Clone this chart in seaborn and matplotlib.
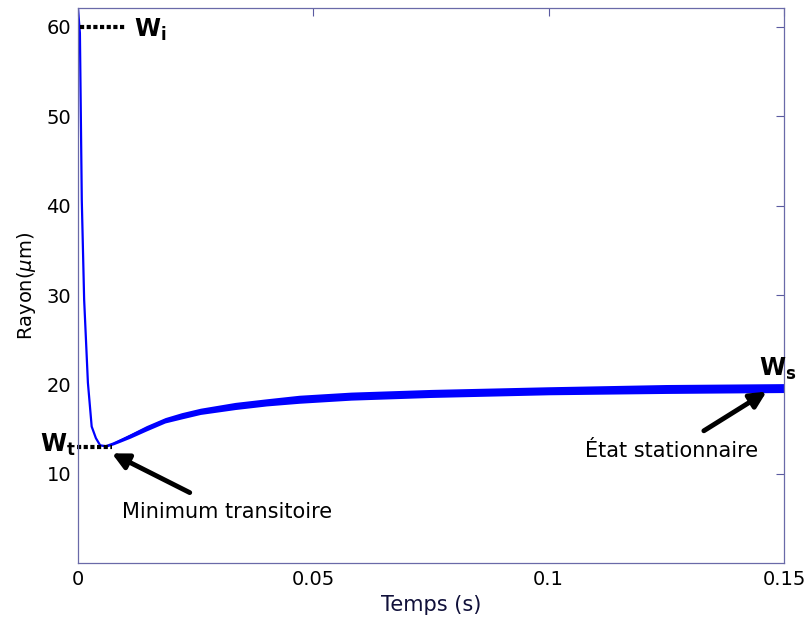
import numpy as np
import pandas as pd
import matplotlib
matplotlib.use('Agg')
import matplotlib.pyplot as plt
import seaborn as sns

# valeurs
temps = [0, 0.0004, 0.0008, 0.0013, 0.0021, 0.0029, 0.0038, 0.0047, 0.0059, 0.0075,
         0.0092, 0.0111, 0.0145, 0.0185, 0.022, 0.026, 0.0334, 0.04, 0.047, 0.058,
         0.075, 0.1, 0.125, 0.15]
rayon = [62, 59.3, 40.6, 29.5, 20.2, 15.3, 14.0, 13.2, 13.1, 13.4,
         13.8, 14.25, 15.1, 16.0, 16.5, 17.0, 17.6, 18.0, 18.35, 18.7,
         19.0, 19.3, 19.5, 19.6]
# demi-largeur de la bande de bruit
bruit = [0, 0, 0, 0, 0, 0, 0, 0, 0.1, 0.15,
         0.2, 0.25, 0.3, 0.3, 0.35, 0.35, 0.4, 0.4, 0.45, 0.45,
         0.45, 0.45, 0.5, 0.5]

w_i = 60
w_t = 13.0
x_ticks = [0, 0.05, 0.1, 0.15]
x_labels = ['0', '0.05', '0.1', '0.15']
y_ticks = [10, 20, 30, 40, 50, 60]

df = pd.DataFrame({'temps': temps, 'rayon': rayon, 'bruit': bruit})

sns.set_style('white')
plt.rcParams['font.family'] = ['DejaVu Sans']
plt.rcParams['mathtext.fontset'] = 'dejavusans'
plt.rcParams['text.color'] = 'black'
plt.rcParams['axes.labelcolor'] = 'black'
plt.rcParams['xtick.color'] = 'black'
plt.rcParams['ytick.color'] = 'black'

fig = plt.figure(figsize=(8.06, 6.28), dpi=100)
ax = fig.add_axes([0.0968, 0.1029, 0.8759, 0.8844])

ax.fill_between(df['temps'], df['rayon'] - df['bruit'], df['rayon'] + df['bruit'],
                color='#0000ff', lw=0)
sns.lineplot(data=df, x='temps', y='rayon', ax=ax, color='#0000ff', lw=1.6)

# lignes pointillées W_i et W_t
ax.plot([0.0004, 0.0100], [w_i, w_i], ls=(0, (1, 0.6)), color='k', lw=3)
ax.plot([-0.0003, 0.0073], [w_t, w_t], ls=(0, (1, 0.6)), color='k', lw=3, clip_on=False)

ax.text(0.0118, w_i - 0.3, r'$\mathbf{W}_\mathbf{i}$', fontsize=17, va='center', ha='left')
ax.text(-0.0080, w_t + 0.2, r'$\mathbf{W}_\mathbf{t}$', fontsize=17, va='center', ha='left')
ax.text(0.1447, 21.7, r'$\mathbf{W}_\mathbf{s}$', fontsize=17, va='center', ha='left')

ax.annotate('Minimum transitoire', xy=(0.0072, 12.3), xytext=(0.0317, 5.8),
            fontsize=15, ha='center', va='center',
            arrowprops=dict(arrowstyle='-|>', lw=3.5, color='k', mutation_scale=24,
                            shrinkA=9, shrinkB=0))
ax.annotate('État stationnaire', xy=(0.1463, 19.2), xytext=(0.1262, 12.6),
            fontsize=15, ha='center', va='center',
            arrowprops=dict(arrowstyle='-|>', lw=3.5, color='k', mutation_scale=24,
                            shrinkA=9, shrinkB=0))

ax.set_xlim(0, 0.15)
ax.set_ylim(0, 62.1)
ax.set_xticks(x_ticks)
ax.set_xticklabels(x_labels)
ax.set_yticks(y_ticks)
ax.tick_params(direction='in', length=6, width=0.8, color='#5a5aa0',
               top=True, right=True, labelsize=14, pad=5)
for s in ax.spines.values():
    s.set_color('#6a6aa8')
    s.set_linewidth(0.9)

ax.set_xlabel('Temps (s)', fontsize=15, color='#10103a', labelpad=4)
ax.set_ylabel(r'Rayon($\mu$m)', fontsize=14, labelpad=6)

fig.savefig('out.png', dpi=100)
